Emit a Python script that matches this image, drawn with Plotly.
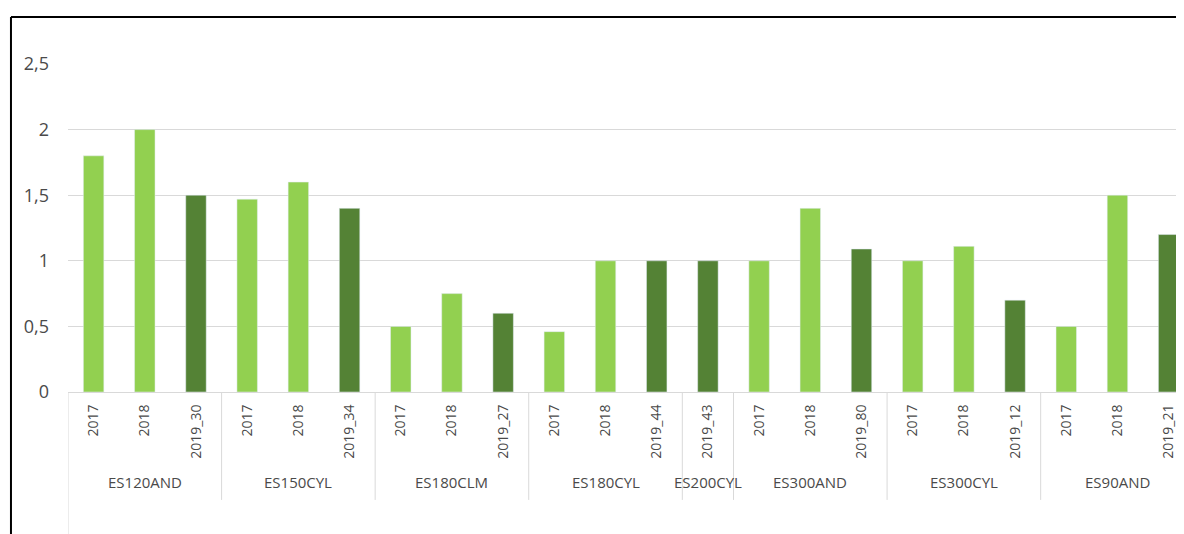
import plotly.graph_objects as go

groups = ["ES120AND", "ES150CYL", "ES180CLM", "ES180CYL", "ES200CYL", "ES300AND", "ES300CYL", "ES90AND"]
periods = [
    ["2017", "2018", "2019_30"],
    ["2017", "2018", "2019_34"],
    ["2017", "2018", "2019_27"],
    ["2017", "2018", "2019_44"],
    ["2019_43"],
    ["2017", "2018", "2019_80"],
    ["2017", "2018", "2019_12"],
    ["2017", "2018", "2019_21"],
]
values = [
    [1.8, 2.0, 1.5],
    [1.47, 1.6, 1.4],
    [0.5, 0.75, 0.6],
    [0.46, 1.0, 1.0],
    [1.0],
    [1.0, 1.4, 1.09],
    [1.0, 1.11, 0.7],
    [0.5, 1.5, 1.2],
]

LIGHT = "#92D050"
DARK = "#548235"
TXT = "#4a4a4a"
GRID = "#d9d9d9"
FONT = "Open Sans"

# flatten to one category axis
labels, ys, colors = [], [], []
for per, val in zip(periods, values):
    for p, v in zip(per, val):
        labels.append(p)
        ys.append(v)
        colors.append(DARK if p.startswith("2019") else LIGHT)
xs = list(range(len(labels)))

fig = go.Figure()
fig.add_trace(go.Bar(x=xs, y=ys, marker_color=colors, width=0.4, showlegend=False))

# group labels and separators below the axis
shapes = []
annotations = []
start = 0
for i, (g, per) in enumerate(zip(groups, periods)):
    n = len(per)
    annotations.append(dict(
        x=start + (n - 1) / 2, y=-0.31, xref="x", yref="paper",
        text=g, showarrow=False, font=dict(family=FONT, size=15, color=TXT),
    ))
    shapes.append(dict(
        type="line", xref="x", yref="paper", x0=start - 0.5, x1=start - 0.5,
        y0=0, y1=-0.45 if i == 0 else -0.329, line=dict(color=GRID, width=1),
    ))
    start += n

# outer frame (only top and left edges visible)
shapes.append(dict(type="line", xref="paper", yref="paper", x0=-0.0511, x1=1.05,
                   y0=1.143, y1=1.143, line=dict(color="black", width=2)))
shapes.append(dict(type="line", xref="paper", yref="paper", x0=-0.0511, x1=-0.0511,
                   y0=1.143, y1=-0.5, line=dict(color="black", width=2)))

# page body adds 8px, so the figure is 8px smaller and margins shifted
fig.update_layout(
    width=1176, height=526,
    margin=dict(l=60, r=0, t=56, b=142),
    paper_bgcolor="white", plot_bgcolor="white",
    separators=", ",
    shapes=shapes, annotations=annotations,
    font=dict(family=FONT, color=TXT),
)
fig.update_xaxes(
    range=[-0.5, 21.3], tickvals=xs, ticktext=labels, tickangle=-90,
    tickfont=dict(family=FONT, size=14, color=TXT), ticklabelstandoff=6,
    showgrid=False, showline=True, linecolor=GRID, linewidth=1, zeroline=False,
)
fig.update_yaxes(
    range=[0, 2.5], dtick=0.5, showgrid=True, gridcolor=GRID, gridwidth=1,
    zeroline=False, tickfont=dict(family=FONT, size=18, color=TXT), ticklabelstandoff=18,
)

fig.write_html("out.html")
